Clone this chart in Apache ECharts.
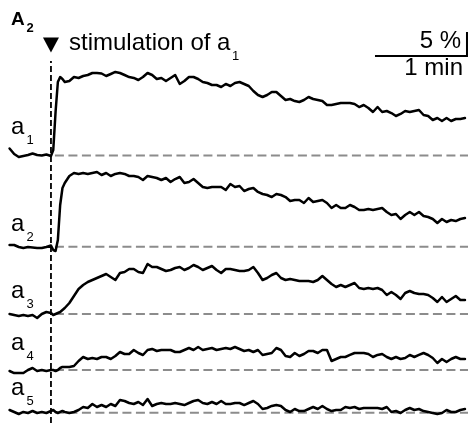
<!DOCTYPE html>
<html><head><meta charset="utf-8">
<script src="https://cdn.jsdelivr.net/npm/echarts@6/dist/echarts.min.js"></script>
<style>html,body{margin:0;padding:0;background:#fff}#c{width:468px;height:423px}</style>
</head><body><div id="c"></div>
<script>
// time relative to stimulation (min)
const timeMin = [-0.45,-0.4,-0.35,-0.3,-0.25,-0.2,-0.15,-0.1,-0.05,0,
  0.025,0.05,0.075,0.1,0.125,0.15,
  0.2,0.25,0.3,0.35,0.4,0.45,0.5,0.55,0.6,0.65,0.7,0.75,0.8,0.85,0.9,0.95,
  1,1.05,1.1,1.15,1.2,1.25,1.3,1.35,1.4,1.45,1.5,1.55,1.6,1.65,1.7,1.75,1.8,1.85,1.9,1.95,
  2,2.05,2.1,2.15,2.2,2.25,2.3,2.35,2.4,2.45,2.5,2.55,2.6,2.65,2.7,2.75,2.8,2.85,2.9,2.95,
  3,3.05,3.1,3.15,3.2,3.25,3.3,3.35,3.4,3.45,3.5,3.55,3.6,3.65,3.7,3.75,3.8,3.85,3.9,3.95,
  4,4.05,4.1,4.15,4.2,4.25,4.3,4.35,4.4,4.45,4.5];

// fluorescence change (%) relative to each trace's baseline
const a1 = [1.46,0.31,-0.31,-0.10,0.10,0.42,0.10,0,0.21,-0.10,
  1.15,9.06,15.31,16.35,15.94,15.31,
  15.52,16.35,16.15,16.56,16.77,17.19,17.19,17.08,16.56,16.98,
  17.40,17.19,16.77,16.35,16.15,15.73,16.35,17.19,16.77,15.94,
  16.15,15.52,16.15,16.77,14.90,15.52,16.35,16.35,15.94,15.31,
  15.10,14.69,14.69,14.27,14.90,14.48,15.10,15.31,14.90,14.48,
  13.44,12.60,12.19,12.60,13.23,13.23,12.40,11.56,11.77,11.35,
  11.15,11.56,12.19,11.77,11.56,11.35,10.52,10.52,10.73,10.94,
  10.94,10.94,10.73,10.10,10.52,9.90,9.06,10.10,9.06,9.27,
  8.85,8.23,8.65,9.27,9.06,9.27,9.48,8.44,8.23,7.40,
  7.81,7.19,7.81,7.19,7.60,7.60,7.81];
const a2 = [0.35,0.35,-0.06,-0.27,-0.06,-0.17,-0.27,-0.27,-0.06,0.25,
  -0.69,-0.90,1.40,8.69,12.23,13.27,
  14.73,15.35,15.15,15.35,15.15,15.35,15.56,14.94,15.35,14.73,
  15.15,15.35,15.15,14.73,14.73,14.52,13.90,14.73,14.52,14.31,
  13.90,14.31,13.48,14.10,14.52,13.27,13.48,14.10,13.27,12.44,
  12.23,12.44,12.44,12.44,11.81,13.06,12.44,12.65,11.60,12.02,
  12.23,11.40,10.98,10.77,10.35,10.98,10.77,10.35,9.52,9.73,
  9.73,9.10,10.15,9.31,9.52,9.73,9.10,8.06,8.69,8.06,
  8.06,8.69,8.27,7.65,7.65,7.85,7.65,7.85,8.06,7.23,
  6.60,6.81,5.77,6.60,7.23,6.60,7.23,6.40,6.19,5.77,
  4.94,5.77,5.15,5.56,5.35,5.77,5.98];
const a3 = [0,-0.21,-0.42,-0.21,-0.42,-0.21,-0.83,0,0.42,0.21,
  -0.21,0,0.21,0.42,0.83,1.25,
  2.29,3.75,5.21,6.04,6.67,7.08,7.50,7.92,8.33,7.71,
  7.08,8.54,8.75,9.38,9.38,8.75,8.54,10.42,9.79,9.79,
  9.38,8.96,9.17,9.58,9.79,9.17,9.58,10.21,9.79,9.17,
  9.58,10.00,9.17,8.54,9.38,9.38,9.17,8.96,8.96,9.17,
  9.79,8.54,7.08,7.50,8.13,8.54,7.50,7.08,7.29,7.08,
  6.88,6.88,6.88,6.67,7.08,7.92,7.08,6.25,5.63,6.04,
  5.63,6.04,6.46,5.42,5.21,5.42,5.21,5.42,5.00,3.96,
  4.58,3.96,3.13,4.38,4.79,4.38,4.17,4.17,3.96,3.33,
  2.50,3.54,2.50,3.13,3.75,2.92,2.92];
const a4 = [-0.21,-0.63,-0.63,-0.63,0,0.42,-0.21,0,-0.21,0,
  0,-0.21,0,0.42,0.63,0.63,
  0.63,0.83,1.88,2.71,2.29,2.50,2.29,2.71,2.71,2.29,
  2.92,3.75,3.33,3.33,4.17,3.54,3.13,4.17,4.38,3.96,
  4.17,4.17,4.17,3.75,3.75,4.17,4.58,4.17,4.79,4.17,
  4.38,4.58,4.17,4.38,4.58,4.38,4.79,4.38,3.96,4.17,
  3.75,4.17,3.13,3.33,3.54,4.58,4.17,2.92,2.71,3.54,
  2.92,3.33,3.96,3.96,3.54,4.17,4.17,1.88,2.29,2.71,
  2.71,3.13,3.54,3.54,3.54,3.33,2.71,3.13,3.33,2.71,
  2.29,2.71,2.29,2.50,3.13,2.71,3.13,3.54,3.13,2.50,
  1.46,2.29,1.67,2.29,2.71,2.29,2.29];
const a5 = [0.56,0.15,-0.27,0.15,-0.06,0.35,-0.06,0.15,-0.06,0.35,
  0.56,0.15,-0.06,0.15,0.35,0.15,
  -0.06,0.15,0.56,1.19,0.98,1.81,1.19,1.60,1.19,1.81,
  1.40,2.65,2.44,2.02,1.81,2.23,1.60,2.85,1.40,1.81,
  2.02,1.81,1.81,2.02,1.81,1.60,2.02,2.44,2.65,2.02,
  1.81,2.23,1.81,2.44,1.81,1.81,2.02,2.02,1.60,2.02,
  2.44,1.81,0.77,0.98,1.40,1.60,1.40,0.56,0.15,0.77,
  0.35,0.35,0.77,1.19,0.77,1.40,0.77,0.35,0.56,0.56,
  1.19,0.98,1.19,0.77,0.98,0.98,0.98,0.98,0.77,1.19,
  0.15,0.35,-0.06,0.56,0.98,0.56,0.77,0.35,0.15,-0.06,
  -0.27,-0.06,0.56,0.15,0.15,0.56,0.77];

const traceSubs = ['1','2','3','4','5'];
const stimTime = 0;
const scaleBarMin = 1;
const scaleBarPct = 5;

const traces = [a1,a2,a3,a4,a5];
traces.forEach((t,i)=>{ if (t.length !== timeMin.length) throw new Error('len mismatch a'+(i+1)+': '+t.length+' vs '+timeMin.length); });

// layout
const PXP = 4.8;            // px per %
const X_MIN = -0.467, X_MAX = 4.533;
const GL = 8, GW = 460, H = 423;
const baselinesPx = [155.5, 246.7, 314, 370, 412.7];
const ABOVE = 96, BELOW = 10;
const FONT = '"Liberation Sans", Arial, sans-serif';

const grids = [], xAxes = [], yAxes = [], series = [];
baselinesPx.forEach((b,i)=>{
  grids.push({left: GL, width: GW, top: b - ABOVE, height: ABOVE + BELOW});
  xAxes.push({type:'value', gridIndex:i, min:X_MIN, max:X_MAX, show:false});
  yAxes.push({type:'value', gridIndex:i, min:-BELOW/PXP, max:ABOVE/PXP, show:false});
  series.push({type:'line', xAxisIndex:i, yAxisIndex:i, z:1, silent:true, symbol:'none', clip:false,
    data:[[0.043,0],[X_MAX,0]],
    lineStyle:{color:'#8c8c8c', width:2, type:[9,4.5]}});
  series.push({type:'line', xAxisIndex:i, yAxisIndex:i, z:3, silent:true, symbol:'none', showSymbol:false, clip:false,
    data: timeMin.map((t,j)=>[t, traces[i][j]]),
    lineStyle:{color:'#000', width:2.5, join:'round', cap:'round'}});
});
// overlay grid for stimulation marker and scale bar
const OV = grids.length;
grids.push({left: GL, width: GW, top: 0, height: H});
xAxes.push({type:'value', gridIndex:OV, min:X_MIN, max:X_MAX, show:false});
yAxes.push({type:'value', gridIndex:OV, min:0, max:H/PXP, show:false});
const stimTopPct = (H - 61)/PXP;
series.push({type:'line', xAxisIndex:OV, yAxisIndex:OV, z:2, silent:true, symbol:'none', clip:false,
  data:[[stimTime,0],[stimTime,stimTopPct]],
  lineStyle:{color:'#000', width:1.8, type:[6,3]}});
series.push({type:'scatter', xAxisIndex:OV, yAxisIndex:OV, z:4, silent:true,
  data:[[stimTime,(H-45)/PXP]], symbol:'triangle', symbolRotate:180, symbolSize:[16,15],
  itemStyle:{color:'#000', opacity:1}});
const barEnd = 4.522, barY = (H-56)/PXP;
series.push({type:'line', xAxisIndex:OV, yAxisIndex:OV, z:4, silent:true, symbol:'none', clip:false,
  data:[[barEnd-scaleBarMin,barY],[barEnd,barY],[barEnd,barY+scaleBarPct]],
  lineStyle:{color:'#000', width:2, join:'miter', cap:'butt'}});

function txt(s, x, base, size, opts={}) {
  const bold = opts.bold ? 'bold ' : '';
  return {type:'text', x:x, y: base - 0.35*size, z:10, silent:true,
    style:{text:s, fill:'#000', font: bold + size + 'px ' + FONT,
      align: opts.align||'left', textAlign: opts.align||'left',
      verticalAlign:'middle', textVerticalAlign:'middle'}};
}
const labelBase = [136, 233, 300, 352, 397];
const graphic = [
  txt('A', 11, 26, 19, {bold:true}),
  txt('2', 26.5, 32.5, 13, {bold:true}),
  txt('stimulation of a', 69, 52, 24),
  txt('1', 232, 61, 13),
  txt('5 %', 461, 50, 24, {align:'right'}),
  txt('1 min', 463, 77, 24, {align:'right'}),
];
labelBase.forEach((b,i)=>{
  graphic.push(txt('a', 11, b, 24));
  graphic.push(txt(traceSubs[i], 26.5, b + 9, 13));
});

const chart = echarts.init(document.getElementById('c'), null, {renderer:'canvas'});
chart.setOption({animation:false, backgroundColor:'#fff', grid:grids, xAxis:xAxes, yAxis:yAxes, series:series, graphic:graphic});
</script></body></html>
